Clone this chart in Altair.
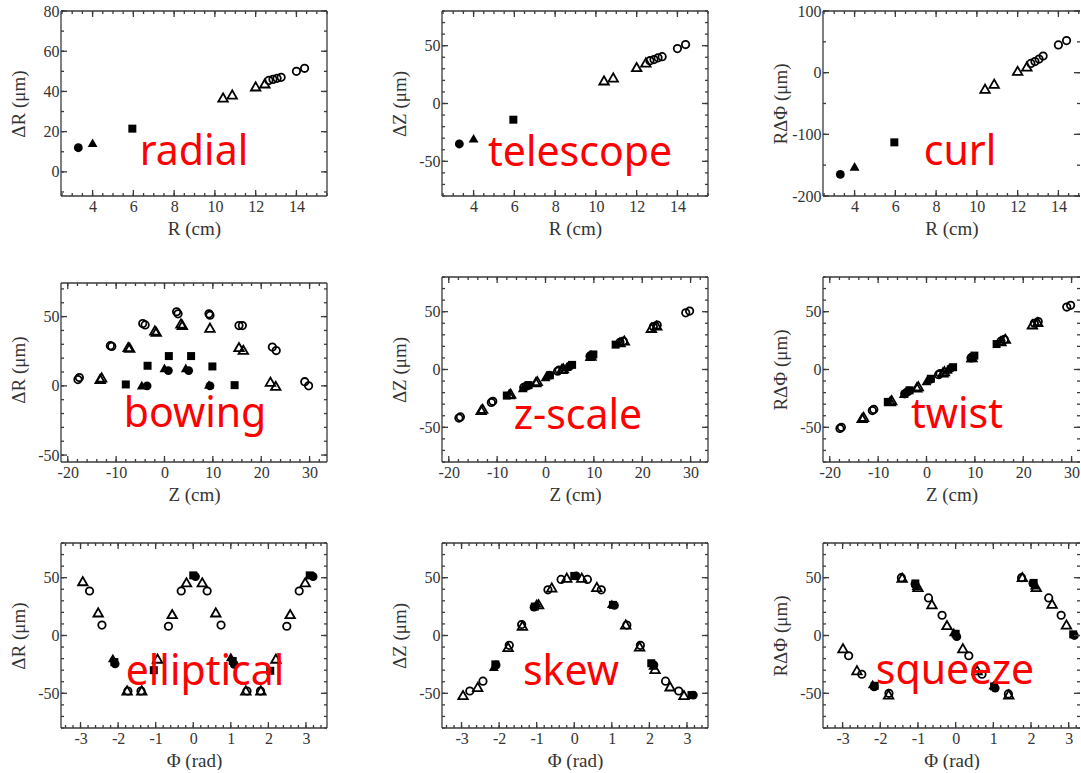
import altair as alt
import pandas as pd

# ---------------- Row 1: shifts versus radius R (cm) ----------------
R_POS = [3.3, 4.0, 5.95, 10.4, 10.85, 12.0, 12.45, 12.65, 12.85, 13.05, 13.25, 14.0, 14.4]
R_KIND = ["fc", "ft", "fs", "ot", "ot", "ot", "ot", "oc", "oc", "oc", "oc", "oc", "oc"]
RADIAL_DR = [12, 14.5, 21.5, 37, 38.5, 42.5, 44, 45.5, 46, 46.5, 47, 50, 51.5]
TELESCOPE_DZ = [-35, -30, -14, 20, 22.5, 31.5, 35.5, 37, 38, 39.5, 40.5, 47.5, 51]
CURL_RDPHI = [-165, -152, -113, -26, -18, 3, 10, 15, 18, 22, 27, 45, 52]

# ---------------- Row 2: shifts versus Z (cm) ----------------
Z_POS = [-17.9, -17.6, -11.2, -10.9, -4.5, -4.0, 2.5, 2.8, 9.2, 9.4, 15.4, 16.1, 22.3, 23.1, 29.0, 29.8,
         -13.3, -13.0, -7.5, -7.2, -2.0, -1.7, 3.4, 3.7, 9.4, 15.4, 16.3, 21.9, 23.0,
         -8.0, -3.5, 0.9, 5.5, 9.9, 14.5,
         -4.7, 0.0, 4.4, 9.2,
         -3.6, 0.8, 5.0, 9.4]
Z_KIND = ["oc"] * 16 + ["ot"] * 13 + ["fs"] * 6 + ["ft"] * 4 + ["fc"] * 4
BOWING_DR = [4.5, 6, 29, 28.5, 45, 44, 53.5, 52, 52, 51, 43.5, 43.5, 28, 25.5, 3, 0,
             5, 6, 28, 27.5, 40, 39, 45, 44, 42, 28, 26, 3, 0,
             1, 14.5, 21.5, 21.5, 14, 0.5,
             0.5, 13, 13, 1,
             0, 11, 11, 0]
ZSCALE_DZ = [-42, -41, -28.5, -27.5, -15.5, -14.5, -1.5, -0.5, 11.5, 12, 23.5, 24.5, 37, 38.5, 49, 50.5,
             -35, -34, -21.5, -21, -11, -10, 0.5, 1, 12, 23.5, 25, 36, 38,
             -22.5, -13.5, -5, 4, 13, 21.5,
             -16, -6.5, 2.5, 11,
             -14, -5, 3, 11.5]
TWIST_RDPHI = [-51, -50, -35.5, -34.5, -21, -19.5, -4.5, -3.5, 10, 10.5, 24.5, 26, 40, 41.5, 54, 55.5,
               -42, -41, -27.5, -26.5, -15.5, -14.5, -2.5, -1.5, 10.5, 24.5, 26.5, 39, 41,
               -28, -18, -8, 2, 12, 22,
               -21, -10, 0, 10,
               -18.5, -8.5, 1, 10.5]

# ---------------- Row 3: shifts versus azimuth Phi (rad) ----------------
ELL_PHI = [-2.94, -2.53, -1.76, -1.37, -0.95, -0.56, -0.18, 0.24, 0.60, 1.40, 1.80, 2.20, 2.58, 2.98,
           -2.76, -2.43, -1.74, -1.39, -0.66, -0.32, 0.37, 0.74, 1.43, 1.79, 2.49, 2.82,
           -2.10, -1.05, 0.00, 1.05, 2.05, 3.10,
           -2.14, 1.00,
           -2.08, 0.06, 1.09, 3.19]
ELL_KIND = ["ot"] * 14 + ["oc"] * 12 + ["fs"] * 6 + ["ft"] * 2 + ["fc"] * 4
ELL_DR = [47, 20, -47.5, -47.5, -20, 18.5, 46, 46, 20, -47.5, -47.5, -20, 18.5, 46,
          38.5, 9, -48, -48, 8, 38.5, 38.5, 9, -48, -48, 8, 38.5,
          -23, -30, 52, -22, -30.5, 52,
          -19.5, -18.5,
          -24.5, 51, -25, 51]

SKEW_PHI = [-2.96, -2.57, -1.76, -1.38, -0.95, -0.60, -0.20, 0.20, 0.60, 1.37, 1.74, 2.15, 2.55, 2.92,
            -2.78, -2.43, -1.73, -1.40, -0.70, -0.35, 0.35, 0.72, 1.40, 1.76, 2.43, 2.78,
            -2.10, -1.05, 0.00, 1.03, 2.05, 3.12,
            -2.14, -1.00, 1.00, 2.10,
            -2.08, -1.07, 0.05, 1.07, 2.12, 3.17]
SKEW_KIND = ["ot"] * 14 + ["oc"] * 12 + ["fs"] * 6 + ["ft"] * 4 + ["fc"] * 6
SKEW_DZ = [-51.5, -44.5, -10, 8.5, 27, 41.5, 50, 50, 42, 9.5, -9.5, -29, -44, -51.5,
           -48, -39.5, -8.5, 9.5, 39.5, 48.5, 48.5, 39.5, 9, -8.5, -39.5, -48,
           -25, 25, 51.5, 26.5, -24, -51.5,
           -27, 28, 27.5, -26,
           -25.5, 24.5, 51.5, 26, -25.5, -51.5]

SQZ_PHI = [-2.99, -2.62, -1.78, -1.42, -1.00, -0.63, -0.23, 0.19, 0.57, 1.41, 1.77, 2.14, 2.56, 2.94,
           -2.84, -2.49, -1.77, -1.44, -0.72, -0.36, 0.35, 0.70, 1.40, 1.75, 2.47, 2.80,
           -2.15, -1.07, 0.00, 1.02, 2.07, 3.12,
           -2.20, -1.04, -0.05, 1.00, 2.10,
           -2.16, -1.08, 0.03, 1.05, 2.05, 3.15]
SQZ_KIND = ["ot"] * 14 + ["oc"] * 12 + ["fs"] * 6 + ["ft"] * 5 + ["fc"] * 6
SQZ_RDPHI = [-11, -30, -51, 50, 42, 27, 9, -11, -30, -51, 50.5, 42, 27.5, 9.5,
             -17.5, -33.5, -50, 50, 32.5, 17.5, -17.5, -33.5, -50.5, 50, 32.5, 17.5,
             -43.5, 45, 1.5, -44, 45.5, 1,
             -42, 43, 3, -43, 43.5,
             -44.5, 44.5, -1, -45.5, 45, 0]

PANEL_NAMES = ["radial", "telescope", "curl", "bowing", "z-scale", "twist",
               "elliptical", "skew", "squeeze"]

# ---------------- axis ticks and labels ----------------
R_MAJOR = [4, 6, 8, 10, 12, 14]
R_MINOR = [v / 2 for v in range(5, 32)]
Z_MAJOR = [-20, -10, 0, 10, 20, 30]
Z_MINOR = list(range(-20, 34, 2))
PHI_MAJOR = [-3, -2, -1, 0, 1, 2, 3]
PHI_MINOR = [round(v * 0.2, 1) for v in range(-17, 18)]
RADIAL_MAJOR = [0, 20, 40, 60, 80]
RADIAL_MINOR = list(range(-10, 81, 10))
UM80_MAJOR = [-50, 0, 50]
UM80_MINOR = list(range(-80, 81, 10))
CURL_MAJOR = [-200, -100, 0, 100]
CURL_MINOR = list(range(-200, 101, 50))
BOW_MINOR = list(range(-50, 71, 10))

# ---------------- styling ----------------
H = 185          # panel height
W = 266          # panel width
W_EDGE = 257     # right-hand column runs into the page edge
FRAME = "#3a3a3a"
INK = "#333333"
SERIF = "Liberation Serif"
MAJ, MIN = 6, 3

KIND_STYLE = {
    "oc": ("circle", 55, False),
    "ot": ("triangle-up", 90, False),
    "fs": ("square", 64, True),
    "ft": ("triangle-up", 98, True),
    "fc": ("circle", 78, True),
}


def inside(vals, dom):
    return [v for v in vals if dom[0] <= v <= dom[1]]


def panel(xv, yv, kinds, xdom, ydom, xmaj, xmin_, ymaj, ymin_, xtitle, ytitle,
          name, name_xy, width=W, top=0, open_right=False):
    xaxis = alt.Axis(values=inside(xmaj, xdom), title=xtitle, ticks=False, domain=False,
                     grid=False, labelPadding=2, titlePadding=5, minExtent=18, maxExtent=18,
                     labelFlush=False, labelOverlap=False, labelExpr="datum.value + ''")
    yaxis = alt.Axis(values=ymaj, title=ytitle, ticks=False, domain=False,
                     grid=False, labelPadding=2, titlePadding=2, minExtent=31, maxExtent=31,
                     labelFlush=False, labelOverlap=False, labelExpr="datum.value + ''")
    xs = alt.Scale(domain=xdom, nice=False, zero=False)
    ys = alt.Scale(domain=ydom, nice=False, zero=False)
    one = pd.DataFrame({"o": [0]})
    layers = []

    pts = pd.DataFrame({"x": xv, "y": yv, "k": kinds})
    for k in ["oc", "ot", "fs", "ft", "fc"]:
        shape, size, filled = KIND_STYLE[k]
        layers.append(
            alt.Chart(pts).transform_filter(alt.datum.k == k)
            .mark_point(shape=shape, size=size, filled=filled, color="black",
                        opacity=1, strokeWidth=1.8)
            .encode(x=alt.X("x:Q", scale=xs, axis=xaxis),
                    y=alt.Y("y:Q", scale=ys, axis=yaxis)))

    # plot frame
    edges = [(0, width, top, top), (0, width, H, H), (0, 0, top, H)]
    if not open_right:
        edges.append((width, width, top, H))
    for x1, x2, y1, y2 in edges:
        layers.append(
            alt.Chart(one).mark_rule(color=FRAME, strokeWidth=1.3).encode(
                x=alt.value(x1), x2=alt.value(x2), y=alt.value(y1), y2=alt.value(y2)))

    # inward ticks on all four sides
    for vals, ln in ((inside(xmaj, xdom), MAJ), (inside(xmin_, xdom), MIN)):
        d = pd.DataFrame({"x": vals})
        xt = alt.X("x:Q", scale=xs, axis=xaxis)
        layers.append(alt.Chart(d).mark_rule(color=FRAME, strokeWidth=1.3).encode(
            x=xt, y=alt.value(H), y2=alt.value(H - ln)))
        layers.append(alt.Chart(d).mark_rule(color=FRAME, strokeWidth=1.3).encode(
            x=xt, y=alt.value(top), y2=alt.value(top + ln)))
    for vals, ln in ((inside(ymaj, ydom), MAJ), (inside(ymin_, ydom), MIN)):
        d = pd.DataFrame({"y": vals})
        yt = alt.Y("y:Q", scale=ys, axis=yaxis)
        layers.append(alt.Chart(d).mark_rule(color=FRAME, strokeWidth=1.3).encode(
            y=yt, x=alt.value(0), x2=alt.value(ln)))
        layers.append(alt.Chart(d).mark_rule(color=FRAME, strokeWidth=1.3).encode(
            y=yt, x=alt.value(width), x2=alt.value(width - ln)))

    layers.append(
        alt.Chart(pd.DataFrame({"t": [name]}))
        .mark_text(font="Comic Sans MS, Noto Sans", fontSize=41, color="#ff0000",
                   align="center", baseline="alphabetic")
        .encode(text="t:N", x=alt.value(name_xy[0]), y=alt.value(name_xy[1])))

    return alt.layer(*layers).properties(width=width, height=H)


R_DOM = [2.45, 15.5]
R_DOM_EDGE = [2.45, 15.06]
Z_DOM = [-21.4, 33.6]
Z_DOM_EDGE = [-21.4, 31.74]
PHI_DOM = [-3.52, 3.56]
PHI_DOM_EDGE = [-3.52, 3.3]
BOW_DOM = [-55, 78.6]     # frame drawn 6 px below the panel top, at 75

RT = "R (cm)"
ZT = "Z (cm)"
PT = "\u03a6 (rad)"
DR = "\u0394R (\u03bcm)"
DZ = "\u0394Z (\u03bcm)"
RDP = "R\u0394\u03a6 (\u03bcm)"

panels = [
    panel(R_POS, RADIAL_DR, R_KIND, R_DOM, [-12, 80], R_MAJOR, R_MINOR,
          RADIAL_MAJOR, RADIAL_MINOR, RT, DR, PANEL_NAMES[0], (133, 154)),
    panel(R_POS, TELESCOPE_DZ, R_KIND, R_DOM, [-80, 80], R_MAJOR, R_MINOR,
          UM80_MAJOR, UM80_MINOR, RT, DZ, PANEL_NAMES[1], (138, 155)),
    panel(R_POS, CURL_RDPHI, R_KIND, R_DOM_EDGE, [-200, 100], R_MAJOR, R_MINOR,
          CURL_MAJOR, CURL_MINOR, RT, RDP, PANEL_NAMES[2], (137, 154),
          width=W_EDGE, open_right=True),
    panel(Z_POS, BOWING_DR, Z_KIND, Z_DOM, BOW_DOM, Z_MAJOR, Z_MINOR,
          UM80_MAJOR, BOW_MINOR, ZT, DR, PANEL_NAMES[3], (134, 150), top=6),
    panel(Z_POS, ZSCALE_DZ, Z_KIND, Z_DOM, [-80, 80], Z_MAJOR, Z_MINOR,
          UM80_MAJOR, UM80_MINOR, ZT, DZ, PANEL_NAMES[4], (136, 152)),
    panel(Z_POS, TWIST_RDPHI, Z_KIND, Z_DOM_EDGE, [-80, 80], Z_MAJOR, Z_MINOR,
          UM80_MAJOR, UM80_MINOR, ZT, RDP, PANEL_NAMES[5], (134, 151),
          width=W_EDGE, open_right=True),
    panel(ELL_PHI, ELL_DR, ELL_KIND, PHI_DOM, [-80, 80], PHI_MAJOR, PHI_MINOR,
          UM80_MAJOR, UM80_MINOR, PT, DR, PANEL_NAMES[6], (144, 142)),
    panel(SKEW_PHI, SKEW_DZ, SKEW_KIND, PHI_DOM, [-80, 80], PHI_MAJOR, PHI_MINOR,
          UM80_MAJOR, UM80_MINOR, PT, DZ, PANEL_NAMES[7], (129, 142)),
    panel(SQZ_PHI, SQZ_RDPHI, SQZ_KIND, PHI_DOM_EDGE, [-80, 80], PHI_MAJOR, PHI_MINOR,
          UM80_MAJOR, UM80_MINOR, PT, RDP, PANEL_NAMES[8], (132, 141),
          width=W_EDGE, open_right=True),
]

chart = (
    alt.ConcatChart(concat=panels, columns=3,
                    spacing=alt.RowColnumber(row=81, column=115), bounds="flush")
    .properties(padding={"left": 9, "top": 3, "right": 0, "bottom": 0}, background="white")
    .configure_view(stroke=None)
    .configure_axis(labelFont=SERIF, labelFontSize=16, labelColor=INK,
                    titleFont=SERIF, titleFontSize=19, titleFontWeight="normal",
                    titleColor=INK)
)

chart.save("out.html", embed_options={"renderer": "svg", "actions": False})
